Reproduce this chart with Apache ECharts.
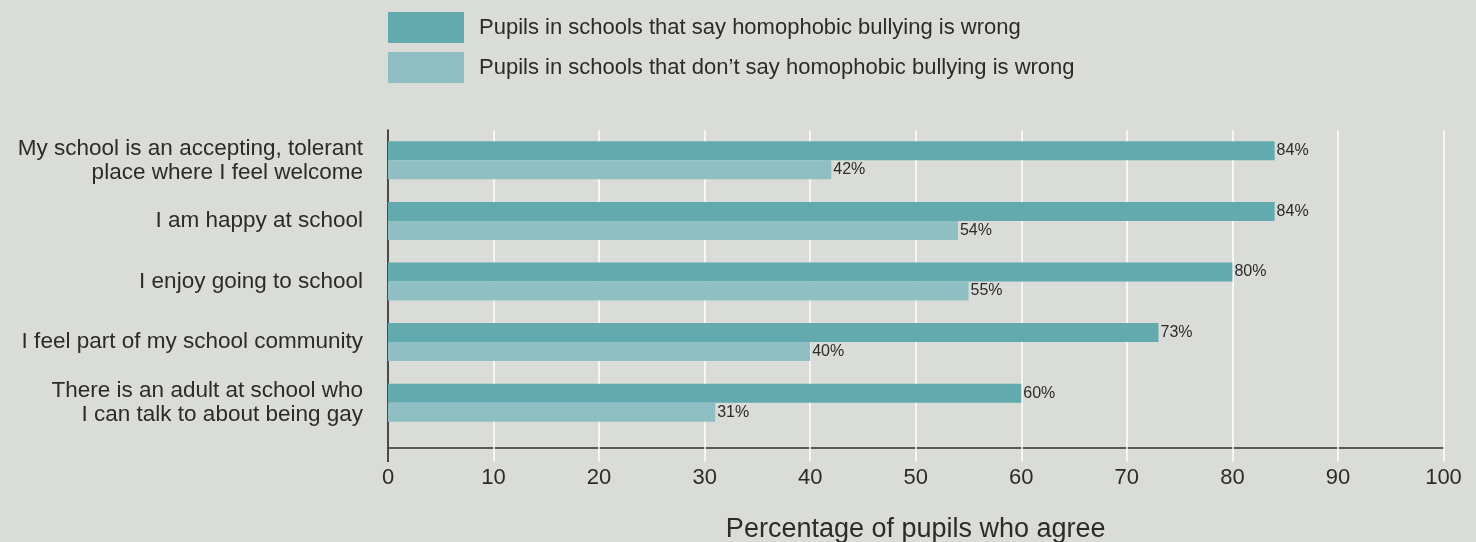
<!DOCTYPE html>
<html>
<head>
<meta charset="utf-8">
<script src="https://cdn.jsdelivr.net/npm/echarts@6/dist/echarts.min.js"></script>
<style>
  html, body { margin: 0; padding: 0; background: #dadcd7; }
  #chart { width: 1476px; height: 542px; }
</style>
</head>
<body>
<div id="chart"></div>
<script>
// Survey statements (top to bottom)
const statements = [
  'My school is an accepting, tolerant\nplace where I feel welcome',
  'I am happy at school',
  'I enjoy going to school',
  'I feel part of my school community',
  'There is an adult at school who\nI can talk to about being gay'
];
const seriesNames = [
  'Pupils in schools that say homophobic bullying is wrong',
  'Pupils in schools that don\u2019t say homophobic bullying is wrong'
];
const sayWrong = [84, 84, 80, 73, 60];
const dontSayWrong = [42, 54, 55, 40, 31];
const axisTitle = 'Percentage of pupils who agree';

const FONT = '"Liberation Sans", Arial, sans-serif';
const TEXT = '#2b2b2b';

const chart = echarts.init(document.getElementById('chart'));

const labelStyle = {
  show: true,
  position: 'right',
  distance: 2,
  formatter: p => p.value + '%',
  color: TEXT,
  fontFamily: FONT,
  fontSize: 16
};

chart.setOption({
  backgroundColor: '#dadcd7',
  animation: false,
  textStyle: { fontFamily: FONT },
  legend: {
    orient: 'vertical',
    left: 388,
    top: 12,
    padding: 0,
    itemWidth: 76,
    itemHeight: 31,
    itemGap: 9,
    icon: 'rect',
    textStyle: { color: TEXT, fontSize: 22, fontFamily: FONT, padding: [0, 0, 0, 10] },
    data: seriesNames
  },
  grid: { left: 388, right: 32.5, top: 130, bottom: 109, containLabel: false, outerBoundsMode: 'none' },
  xAxis: [{
    // main value axis, drawn a little below the plotting area
    type: 'value',
    min: 0,
    max: 100,
    interval: 10,
    offset: 15,
    name: axisTitle,
    nameLocation: 'middle',
    nameGap: 68,
    nameTextStyle: { color: TEXT, fontSize: 27, fontFamily: FONT },
    axisLine: { show: true, lineStyle: { color: '#5a5a5a', width: 2 } },
    axisTick: { show: false },
    axisLabel: { color: TEXT, fontSize: 22, fontFamily: FONT, margin: 19 },
    splitLine: { show: true, lineStyle: { color: '#ffffff', width: 1.5 } }
  }, {
    // white grid extensions running past the axis line
    type: 'value',
    min: 0,
    max: 100,
    interval: 10,
    position: 'bottom',
    offset: 0,
    z: 5,
    axisLine: { show: false },
    axisTick: { show: true, inside: false, length: 29, lineStyle: { color: '#ffffff', width: 1.5 } },
    axisLabel: { show: false },
    splitLine: { show: false }
  }, {
    // extends the vertical baseline below the horizontal axis
    type: 'value',
    min: 0,
    max: 100,
    position: 'bottom',
    z: 6,
    axisLine: { show: false },
    axisTick: { show: true, length: 29, customValues: [0], lineStyle: { color: '#111111', width: 1.5 } },
    axisLabel: { show: false },
    splitLine: { show: false }
  }],
  yAxis: {
    type: 'category',
    inverse: true,
    data: statements,
    axisLine: { show: true, onZero: false, lineStyle: { color: '#111111', width: 1.5 } },
    axisTick: { show: false },
    axisLabel: {
      color: TEXT,
      fontSize: 22.5,
      fontFamily: FONT,
      lineHeight: 24,
      margin: 25,
      align: 'right'
    },
    splitLine: { show: false }
  },
  series: [{
    name: seriesNames[0],
    type: 'bar',
    data: sayWrong,
    barWidth: 19,
    barGap: '0%',
    itemStyle: { color: '#63aaaf' },
    label: labelStyle
  }, {
    name: seriesNames[1],
    type: 'bar',
    data: dontSayWrong,
    barWidth: 19,
    barGap: '0%',
    itemStyle: { color: '#8fbfc3' },
    label: labelStyle
  }]
});
</script>
</body>
</html>
